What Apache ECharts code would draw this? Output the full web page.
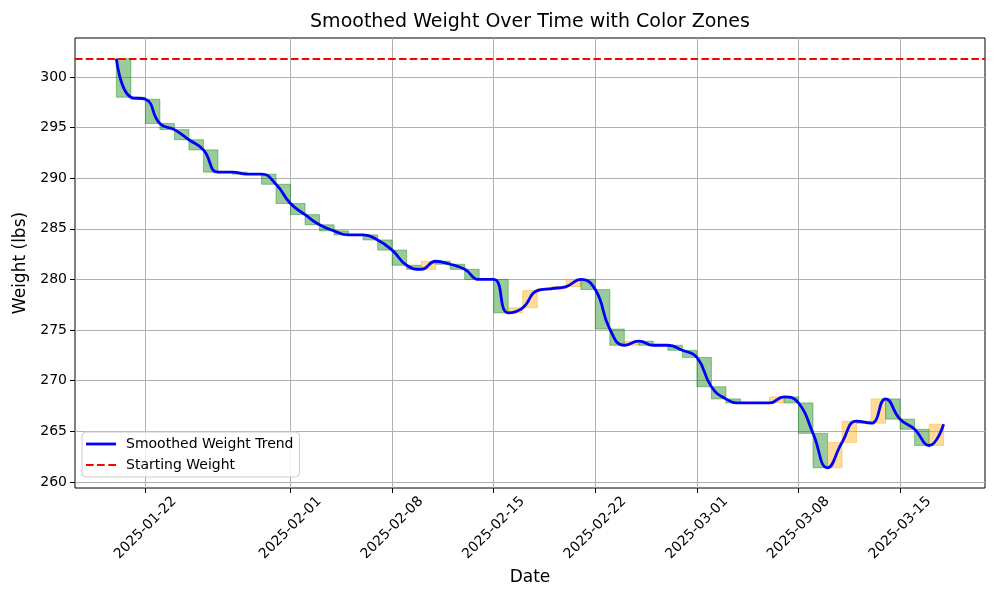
<!DOCTYPE html>
<html>
<head>
<meta charset="utf-8">
<script src="https://cdn.jsdelivr.net/npm/echarts@6/dist/echarts.min.js"></script>
<style>
html,body{margin:0;padding:0;background:#fff;}
#chart{width:1000px;height:600px;}
</style>
</head>
<body>
<div id="chart"></div>
<script>
// ---- data ----
const dates = [
  '2025-01-20','2025-01-21','2025-01-22','2025-01-23','2025-01-24','2025-01-25','2025-01-26','2025-01-27',
  '2025-01-28','2025-01-29','2025-01-30','2025-01-31',
  '2025-02-01','2025-02-02','2025-02-03','2025-02-04','2025-02-05','2025-02-06','2025-02-07','2025-02-08',
  '2025-02-09','2025-02-10','2025-02-11','2025-02-12','2025-02-13','2025-02-14','2025-02-15','2025-02-16',
  '2025-02-17','2025-02-18','2025-02-19','2025-02-20','2025-02-21','2025-02-22','2025-02-23','2025-02-24',
  '2025-02-25','2025-02-26','2025-02-27','2025-02-28',
  '2025-03-01','2025-03-02','2025-03-03','2025-03-04','2025-03-05','2025-03-06','2025-03-07','2025-03-08',
  '2025-03-09','2025-03-10','2025-03-11','2025-03-12','2025-03-13','2025-03-14','2025-03-15','2025-03-16',
  '2025-03-17','2025-03-18'
];
const weights = [
  301.8, 298.0, 297.8, 295.4, 294.8, 293.8, 292.8, 290.6,
  290.6, 290.4, 290.4, 289.4,
  287.5, 286.4, 285.4, 284.8, 284.4, 284.4, 283.9, 282.9,
  281.4, 281.0, 281.8, 281.5, 281.0, 280.0, 280.0, 276.7,
  277.2, 278.9, 279.1, 279.3, 280.0, 279.0, 275.1, 273.5,
  273.9, 273.5, 273.5, 273.0,
  272.3, 269.4, 268.2, 267.8, 267.8, 267.8, 268.4, 267.8,
  264.8, 261.4, 263.9, 266.0, 265.8, 268.2, 266.2, 265.2,
  263.6, 265.7
];
const startingWeight = 301.8;
const xTickLabels = ['2025-01-22','2025-02-01','2025-02-08','2025-02-15','2025-02-22','2025-03-01','2025-03-08','2025-03-15'];
const yTickValues = [260, 265, 270, 275, 280, 285, 290, 295, 300];

// ---- build ----
const xTickDays = xTickLabels.map(l => dates.indexOf(l));
const lineData = weights.map((w, i) => [i, w]);
const zoneData = [];
for (let i = 0; i < weights.length - 1; i++) {
  zoneData.push([i, i + 1, weights[i], weights[i + 1]]);
}
const nDays = dates.length - 1;
const xPad = nDays * 0.05;
const FONT = 'DejaVu Sans';

const chart = echarts.init(document.getElementById('chart'), null, {renderer: 'canvas'});
chart.setOption({
  backgroundColor: '#ffffff',
  animation: false,
  title: {
    text: 'Smoothed Weight Over Time with Color Zones',
    left: 530, top: 13, textAlign: 'center', padding: 0,
    textStyle: {fontFamily: FONT, fontSize: 19, fontWeight: 'normal', color: '#000'}
  },
  grid: {
    left: 75, right: 15, top: 38, bottom: 112,
    show: true, borderColor: '#000', borderWidth: 1, backgroundColor: 'transparent'
  },
  legend: {
    data: [
      {name: 'Smoothed Weight Trend', icon: 'path://M0,0h30v2.8h-30z'},
      {name: 'Starting Weight', icon: 'path://M0,0h7.7v2.1h-7.7z M11,0h7.7v2.1h-7.7z M22.3,0h7.7v2.1h-7.7z'}
    ],
    orient: 'vertical', left: 82, top: 432,
    padding: [5, 6, 5, 4], itemGap: 7, itemWidth: 30, itemHeight: 14,
    symbolKeepAspect: true,
    backgroundColor: 'rgba(255,255,255,0.8)', borderColor: '#cccccc', borderWidth: 1, borderRadius: 4,
    textStyle: {fontFamily: FONT, fontSize: 14, color: '#000', padding: [0, 0, 0, 5]}
  },
  xAxis: {
    type: 'value', min: -xPad, max: nDays + xPad,
    name: 'Date', nameLocation: 'middle', nameGap: 80,
    nameTextStyle: {fontFamily: FONT, fontSize: 17, color: '#000'},
    axisLine: {show: false, onZero: false},
    axisTick: {show: true, length: 5, lineStyle: {color: '#000', width: 1}, customValues: xTickDays},
    axisLabel: {
      customValues: xTickDays, rotate: 45, margin: 40,
      align: 'center', verticalAlign: 'middle',
      fontFamily: FONT, fontSize: 14, color: '#000',
      formatter: v => dates[Math.round(v)] || ''
    },
    splitLine: {show: true, lineStyle: {color: '#b0b0b0', width: 1}}
  },
  yAxis: {
    type: 'value', min: 259.4, max: 303.85,
    name: 'Weight (lbs)', nameLocation: 'middle', nameGap: 42,
    nameTextStyle: {fontFamily: FONT, fontSize: 17, color: '#000'},
    axisLine: {show: false, onZero: false},
    axisTick: {show: true, length: 5, lineStyle: {color: '#000', width: 1}, customValues: yTickValues},
    axisLabel: {customValues: yTickValues, margin: 8, fontFamily: FONT, fontSize: 14, color: '#000'},
    splitLine: {show: true, lineStyle: {color: '#b0b0b0', width: 1}}
  },
  series: [
    {
      name: 'Zones',
      type: 'custom',
      data: zoneData,
      encode: {x: [0, 1], y: [2, 3]},
      z: 1,
      silent: true,
      renderItem: function (params, api) {
        const x0 = api.value(0), x1 = api.value(1), a = api.value(2), b = api.value(3);
        const color = b < a ? 'rgba(0,128,0,0.4)' : 'rgba(255,165,0,0.4)';
        const p0 = api.coord([x0, Math.max(a, b)]);
        const p1 = api.coord([x1, Math.min(a, b)]);
        return {
          type: 'rect',
          shape: {x: p0[0], y: p0[1], width: p1[0] - p0[0], height: p1[1] - p0[1]},
          style: {fill: color, stroke: color, lineWidth: 1}
        };
      }
    },
    {
      name: 'Smoothed Weight Trend',
      type: 'line',
      data: lineData,
      smooth: 0.5,
      symbol: 'none',
      z: 3,
      lineStyle: {color: '#0000ff', width: 2.8},
      itemStyle: {color: '#0000ff'}
    },
    {
      name: 'Starting Weight',
      type: 'line',
      data: [],
      symbol: 'none',
      z: 3,
      lineStyle: {color: '#ff0000', width: 2, type: [7.5, 3.3]},
      itemStyle: {color: '#ff0000'},
      markLine: {
        silent: true, symbol: 'none',
        label: {show: false},
        lineStyle: {color: '#ff0000', width: 2, type: [7.5, 3.3]},
        data: [{yAxis: startingWeight}]
      }
    }
  ]
});
</script>
</body>
</html>
